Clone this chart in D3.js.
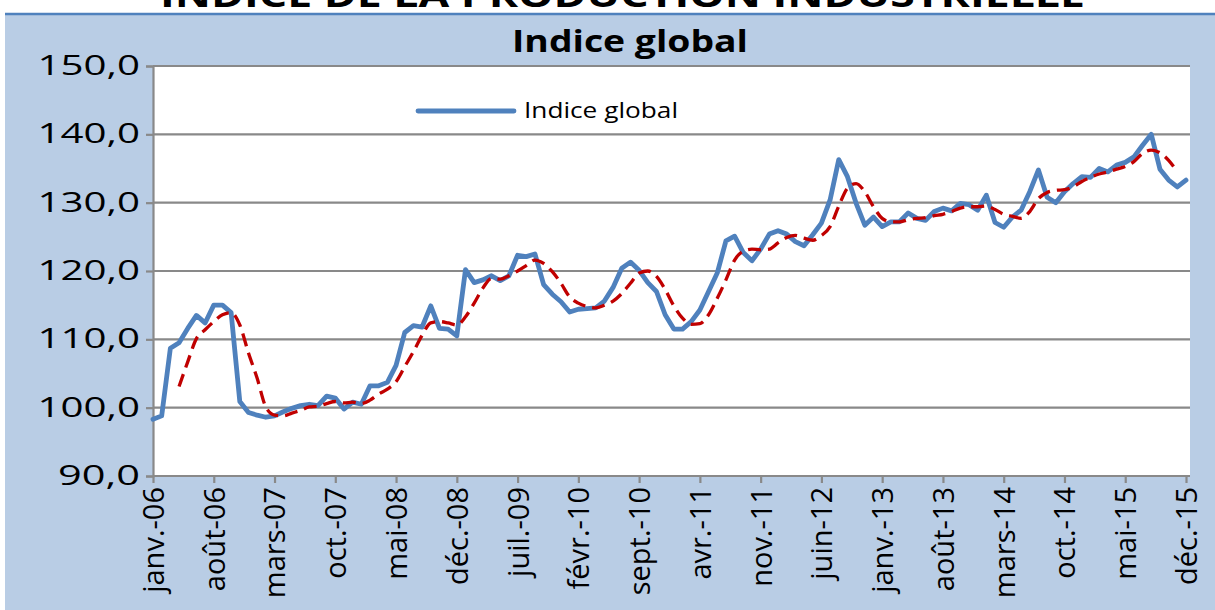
<!DOCTYPE html>
<html>
<head>
<meta charset="utf-8">
<script src="https://cdn.jsdelivr.net/npm/d3@7/dist/d3.min.js"></script>
<style>
  html, body { margin: 0; padding: 0; background: #fff; }
  svg { display: block; }
  text { font-family: "Open Sans", "Noto Sans", sans-serif; fill: #000; }
</style>
</head>
<body>
<svg id="chart" width="1215" height="610"></svg>
<script>
// ---- Data ----
const tickLabels = ["janv.-06","août-06","mars-07","oct.-07","mai-08","déc.-08","juil.-09","févr.-10","sept.-10","avr.-11","nov.-11","juin-12","janv.-13","août-13","mars-14","oct.-14","mai-15","déc.-15"];
const tickStep = 7; // months between labelled ticks

const indiceGlobal = [
  98.3, 98.8, 108.7, 109.5, 111.6, 113.5, 112.4, 115.0, 115.0, 113.9,
  100.9, 99.3, 98.9, 98.6, 98.8, 99.4, 99.9, 100.3, 100.5, 100.3,
  101.7, 101.4, 99.8, 100.8, 100.5, 103.2, 103.2, 103.7, 106.2, 111.0,
  112.0, 111.8, 114.9, 111.6, 111.5, 110.5, 120.2, 118.3, 118.7, 119.3,
  118.6, 119.3, 122.3, 122.1, 122.5, 118.0, 116.6, 115.5, 114.0, 114.4,
  114.5, 114.6, 115.6, 117.6, 120.4, 121.3, 120.1, 118.3, 117.0, 113.6,
  111.5, 111.5, 112.6, 114.3, 117.0, 119.7, 124.4, 125.1, 122.7, 121.5,
  123.2, 125.4, 125.9, 125.4, 124.3, 123.7, 125.3, 127.0, 130.4, 136.3,
  133.8, 129.9, 126.7, 127.9, 126.5, 127.2, 127.2, 128.5, 127.7, 127.4,
  128.7, 129.2, 128.8, 129.9, 129.7, 128.9, 131.1, 127.1, 126.4, 127.9,
  128.9, 131.6, 134.8, 130.8, 130.0, 131.6, 132.8, 133.8, 133.7, 135.0,
  134.5, 135.5, 135.9, 136.7, 138.4, 140.0, 134.9, 133.3, 132.3, 133.3
];

const tendance = [
  null, null, null, 103.1, 106.7, 110.1, 111.4, 112.6, 113.6, 113.9,
  112.1, 108.0, 104.3, 100.1, 98.9, 98.8, 99.2, 99.6, 100.1, 100.2,
  100.6, 100.9, 100.7, 100.8, 100.6, 101.1, 102.0, 102.7, 103.8, 106.0,
  108.2, 110.6, 112.4, 112.6, 112.4, 112.1, 113.3, 115.3, 117.5, 118.9,
  118.8, 119.3, 120.0, 120.8, 121.6, 121.1, 119.9, 118.2, 116.2, 115.3,
  114.8, 114.6, 115.0, 115.6, 116.7, 118.2, 119.7, 120.0, 119.2, 117.3,
  114.9, 113.1, 112.2, 112.3, 113.6, 116.0, 118.7, 121.6, 122.9, 123.2,
  123.1, 123.2, 124.1, 124.9, 125.2, 124.8, 124.5, 125.2, 126.5, 129.5,
  132.1, 132.8, 131.6, 129.4, 127.7, 127.2, 127.2, 127.5, 127.7, 127.8,
  128.1, 128.3, 128.7, 129.2, 129.4, 129.4, 129.5, 129.0, 128.3, 128.0,
  127.7, 128.7, 130.6, 131.5, 131.8, 131.9, 132.3, 133.1, 133.7, 134.2,
  134.5, 134.9, 135.3, 136.0, 137.2, 137.7, 137.3, 136.2, 134.5, null
];

const yTicks = [90, 100, 110, 120, 130, 140, 150];
const chartTitle = "Indice global";
const topTitle = "INDICE DE LA PRODUCTION INDUSTRIELLE";
const legendLabel = "Indice global";

// ---- Layout ----
const W = 1215, H = 610;
const plot = { left: 153, right: 1190, top: 66, bottom: 476, lastX: 1186 };

const svg = d3.select("#chart");

// backgrounds
svg.append("rect").attr("x", 0).attr("y", 0).attr("width", W).attr("height", H).attr("fill", "#ffffff");
svg.append("rect").attr("x", 5).attr("y", 14).attr("width", W - 5).attr("height", H - 14).attr("fill", "#B9CDE5");
svg.append("line").attr("x1", 5).attr("x2", W).attr("y1", 14).attr("y2", 14)
  .attr("stroke", "#4F81BD").attr("stroke-width", 2.5);

// partially cut top title (cut in the reference as well)
svg.append("text").text(topTitle)
  .attr("x", 160).attr("y", 7)
  .attr("textLength", 925).attr("lengthAdjust", "spacingAndGlyphs")
  .style("font-weight", "bold").style("font-size", "34px");

// plot area
svg.append("rect").attr("x", plot.left).attr("y", plot.top)
  .attr("width", plot.right - plot.left).attr("height", plot.bottom - plot.top)
  .attr("fill", "#ffffff");

const x = d3.scaleLinear().domain([0, indiceGlobal.length - 1]).range([plot.left, plot.lastX]);
const y = d3.scaleLinear().domain([90, 150]).range([plot.bottom, plot.top]);

// gridlines
svg.append("g").selectAll("line").data(yTicks).join("line")
  .attr("x1", plot.left).attr("x2", plot.right)
  .attr("y1", d => y(d)).attr("y2", d => y(d))
  .attr("stroke", "#898989").attr("stroke-width", 2.2);

// y axis
const fmt = d => d.toFixed(1).replace(".", ",");
const yAxis = d3.axisLeft(y).tickValues(yTicks).tickFormat(fmt).tickSize(7).tickPadding(6);
const gy = svg.append("g").attr("transform", `translate(${plot.left},0)`).call(yAxis);
gy.select(".domain").attr("stroke", "#898989").attr("stroke-width", 2.2);
gy.selectAll(".tick line").attr("stroke", "#898989").attr("stroke-width", 2.2);
gy.selectAll(".tick text")
  .style("font-size", "27px").style("font-family", "Open Sans").attr("fill", "#000")
  .attr("textLength", d => fmt(d).length * 20.5)
  .attr("lengthAdjust", "spacingAndGlyphs");

// x axis
const tickIdx = tickLabels.map((_, k) => k * tickStep);
const xAxis = d3.axisBottom(x).tickValues(tickIdx).tickFormat((d, k) => tickLabels[k]).tickSize(7).tickSizeOuter(0);
const gx = svg.append("g").attr("transform", `translate(0,${plot.bottom})`).call(xAxis);
gx.select(".domain").attr("stroke", "#898989").attr("stroke-width", 2.2)
  .attr("d", `M${plot.left},0H${plot.right}`);
gx.selectAll(".tick line").attr("stroke", "#898989").attr("stroke-width", 2.2);
gx.selectAll(".tick text")
  .style("font-size", "29px").style("font-family", "Open Sans").attr("fill", "#000")
  .attr("text-anchor", "end")
  .attr("transform", "rotate(-90)")
  .attr("x", -11).attr("y", 0).attr("dy", "0.36em");

// series
const lineBlue = d3.line().x((d, i) => x(i)).y(d => y(d));
svg.append("path").datum(indiceGlobal)
  .attr("d", lineBlue)
  .attr("fill", "none").attr("stroke", "#4F81BD").attr("stroke-width", 4.8)
  .attr("stroke-linejoin", "round").attr("stroke-linecap", "round");

const lineRed = d3.line().defined(d => d != null).x((d, i) => x(i)).y(d => y(d)).curve(d3.curveMonotoneX);
svg.append("path").datum(tendance)
  .attr("d", lineRed)
  .attr("fill", "none").attr("stroke", "#C00000").attr("stroke-width", 3.3)
  .attr("stroke-dasharray", "13,7");

// title
svg.append("text").text(chartTitle)
  .attr("x", 512).attr("y", 52)
  .attr("textLength", 236).attr("lengthAdjust", "spacingAndGlyphs")
  .style("font-weight", "bold").style("font-size", "31px");

// legend
svg.append("line").attr("x1", 418).attr("x2", 514).attr("y1", 111).attr("y2", 111)
  .attr("stroke", "#4F81BD").attr("stroke-width", 4.8).attr("stroke-linecap", "round");
svg.append("text").text(legendLabel)
  .attr("x", 524).attr("y", 118)
  .attr("textLength", 154).attr("lengthAdjust", "spacingAndGlyphs")
  .style("font-size", "22px");
</script>
</body>
</html>
